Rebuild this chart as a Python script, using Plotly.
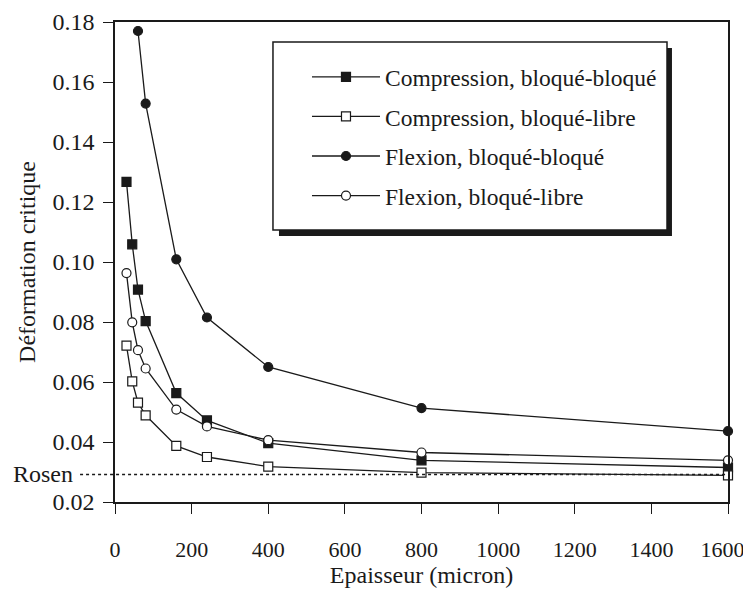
import plotly.graph_objects as go

# epaisseur (micron)
x_all = [30, 45, 60, 80, 160, 240, 400, 800, 1600]
x_flex_bb = [60, 80, 160, 240, 400, 800, 1600]

# deformation critique
y_comp_bb = [0.1267, 0.1059, 0.0908, 0.0803, 0.0563, 0.0472, 0.0396, 0.0339, 0.0315]
y_comp_bl = [0.0721, 0.0602, 0.0531, 0.0489, 0.0387, 0.0350, 0.0318, 0.0298, 0.0289]
y_flex_bb = [0.1770, 0.1528, 0.1009, 0.0815, 0.0650, 0.0513, 0.0436]
y_flex_bl = [0.0963, 0.0799, 0.0706, 0.0645, 0.0508, 0.0452, 0.0406, 0.0365, 0.0339]

rosen = 0.0292

x_ticks = [0, 200, 400, 600, 800, 1000, 1200, 1400, 1600]
# last label padded so it stays inside the page edge
x_ticktext = ['0', '200', '400', '600', '800', '1000', '1200', '1400', '1600&nbsp;&nbsp;']

names = ['Compression, bloqué-bloqué', 'Compression, bloqué-libre',
         'Flexion, bloqué-bloqué', 'Flexion, bloqué-libre']

FONT = '"Liberation Serif", "Times New Roman", Times, serif'
INK = '#1a1a1a'

fig = go.Figure()

series = [
    (x_all, y_comp_bb, 'square', INK),
    (x_all, y_comp_bl, 'square', 'white'),
    (x_flex_bb, y_flex_bb, 'circle', INK),
    (x_all, y_flex_bl, 'circle', 'white'),
]
for i, (xs, ys, sym, fill) in enumerate(series):
    fig.add_trace(go.Scatter(
        x=xs, y=ys, mode='lines+markers', name=names[i], legendgroup=str(i),
        line=dict(color=INK, width=1.3),
        marker=dict(symbol=sym, size=9, color=fill, line=dict(color=INK, width=1.2)),
        cliponaxis=False))

# Rosen reference line
fig.add_shape(type='line', xref='paper', yref='y', x0=-0.057, x1=1, y0=rosen, y1=rosen,
              line=dict(color=INK, width=1.5, dash='dot'))
fig.add_annotation(text='Rosen', xref='paper', yref='y', x=-0.066, y=rosen,
                   xanchor='right', yanchor='middle', showarrow=False,
                   font=dict(family=FONT, size=24, color=INK))

# legend box with shadow
fig.add_shape(type='rect', xref='paper', yref='paper', x0=0.2675, x1=0.9086, y0=0.5542, y1=0.9458,
              fillcolor=INK, line=dict(width=0), layer='above')
fig.add_shape(type='rect', xref='paper', yref='paper', x0=0.2577, x1=0.9005, y0=0.5667, y1=0.9583,
              fillcolor='white', line=dict(color=INK, width=1.5), layer='above')

# page body has an 8px margin, so the figure is 8px smaller on each side
fig.update_layout(
    width=743, height=585,
    margin=dict(l=107, r=23, t=14, b=91, autoexpand=False),
    paper_bgcolor='white', plot_bgcolor='white',
    font=dict(family=FONT, size=24, color=INK),
    legend=dict(x=0.3132, y=0.931, xanchor='left', yanchor='top',
                bgcolor='rgba(0,0,0,0)', borderwidth=0,
                font=dict(family=FONT, size=23.5, color=INK),
                itemwidth=68, tracegroupgap=6),
    xaxis=dict(range=[0, 1600], tickvals=x_ticks, ticktext=x_ticktext,
               showgrid=False, zeroline=False,
               showline=True, mirror=True, linecolor=INK, linewidth=1.5,
               ticks='outside', ticklen=10, tickwidth=1.2, tickcolor=INK,
               tickfont=dict(family=FONT, size=22, color=INK),
               ticklabelstandoff=17, ticklabeloverflow='allow',
               automargin=False,
               title=dict(text='Epaisseur (micron)', standoff=0,
                          font=dict(family=FONT, size=24, color=INK))),
    yaxis=dict(range=[0.02, 0.18], dtick=0.02, tickformat='.2f', showgrid=False,
               zeroline=False, showline=True, mirror=True, linecolor=INK, linewidth=1.5,
               ticks='outside', ticklen=10, tickwidth=1.2, tickcolor=INK,
               ticklabelstandoff=4, automargin=False,
               title=dict(text='Déformation critique', standoff=10,
                          font=dict(family=FONT, size=24, color=INK))),
)

fig.write_html('out.html')
